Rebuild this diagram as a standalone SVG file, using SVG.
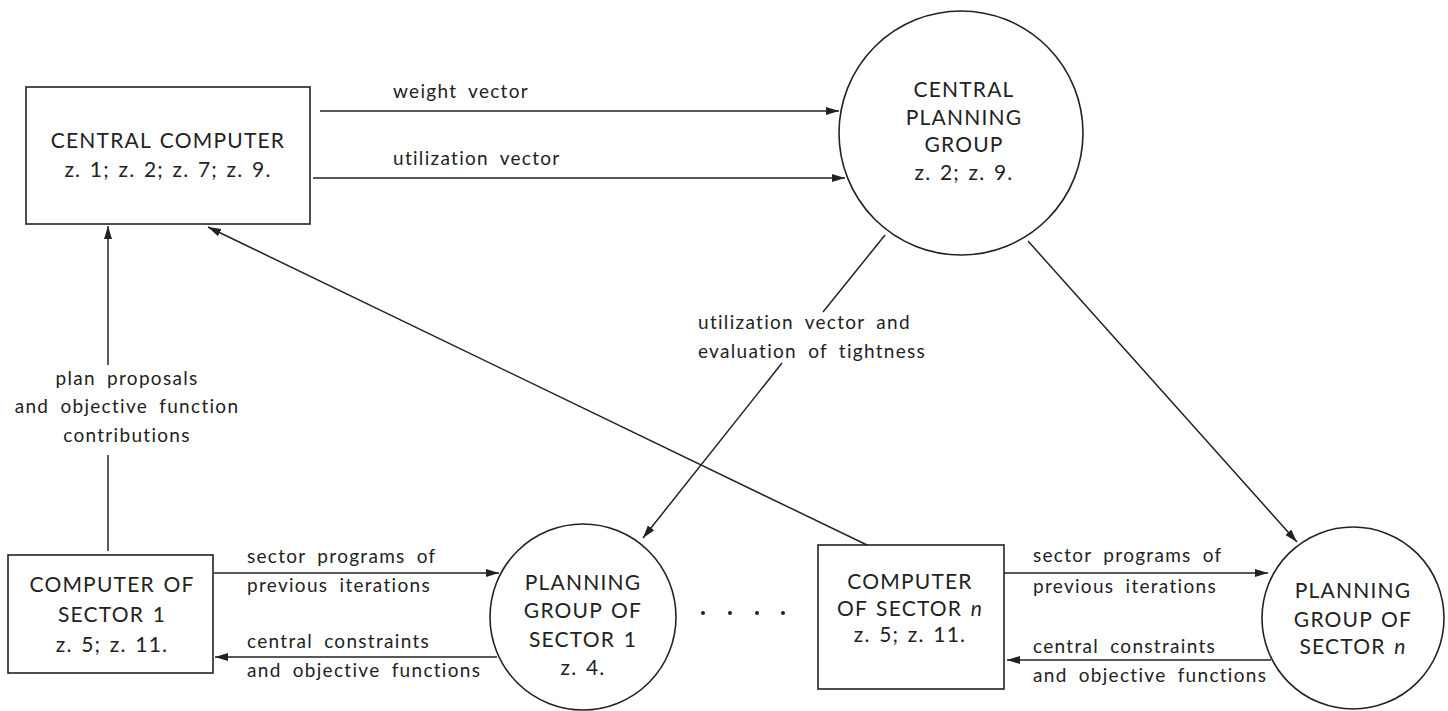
<svg xmlns="http://www.w3.org/2000/svg" width="1448" height="711" viewBox="0 0 1448 711">
<style>
.n{fill:none;stroke:#222;stroke-width:1.6}
.c{fill:none;stroke:#222;stroke-width:1.5}
.t{font-family:Lato,"Open Sans",sans-serif;font-size:21px;fill:#222;letter-spacing:1.2px;word-spacing:2px;text-anchor:middle}
.l{font-family:Lato,"Open Sans",sans-serif;font-size:19px;fill:#222;letter-spacing:1.3px;word-spacing:5px}
.lc{text-anchor:middle}
</style>
<defs>
<marker id="ah" markerUnits="userSpaceOnUse" markerWidth="14" markerHeight="10" refX="13" refY="4" orient="auto">
<path d="M0,0 L13,4 L0,8 Z" fill="#222"/>
</marker>
</defs>
<rect width="1448" height="711" fill="#fff"/>
<g id="central-computer">
<rect class="n" x="26" y="87" width="284" height="137"/>
<text class="t" x="168" y="148">CENTRAL COMPUTER</text>
<text class="t" x="168" y="177">z. 1;  z. 2;  z. 7;  z. 9.</text>
</g>
<g id="central-planning-group">
<circle class="n" cx="961" cy="133" r="122"/>
<text class="t" x="964" y="97">CENTRAL</text>
<text class="t" x="964" y="125">PLANNING</text>
<text class="t" x="964" y="152">GROUP</text>
<text class="t" x="964" y="180">z. 2;  z. 9.</text>
</g>
<g id="computer-sector-1">
<rect class="n" x="8" y="555" width="205" height="118"/>
<text class="t" x="112" y="592">COMPUTER OF</text>
<text class="t" x="112" y="622">SECTOR 1</text>
<text class="t" x="112" y="652">z. 5;  z. 11.</text>
</g>
<g id="planning-group-sector-1">
<circle class="n" cx="583" cy="617" r="93"/>
<text class="t" x="583" y="590">PLANNING</text>
<text class="t" x="583" y="618">GROUP OF</text>
<text class="t" x="583" y="647">SECTOR 1</text>
<text class="t" x="583" y="675">z. 4.</text>
</g>
<g id="ellipsis">
<circle cx="703" cy="613" r="2" fill="#222"/>
<circle cx="730" cy="613" r="2" fill="#222"/>
<circle cx="757" cy="613" r="2" fill="#222"/>
<circle cx="783" cy="613" r="2" fill="#222"/>
</g>
<g id="computer-sector-n">
<rect class="n" x="818" y="545" width="186" height="144"/>
<text class="t" x="910" y="589">COMPUTER</text>
<text class="t" x="910" y="616">OF SECTOR <tspan font-style="italic">n</tspan></text>
<text class="t" x="910" y="642">z. 5;  z. 11.</text>
</g>
<g id="planning-group-sector-n">
<circle class="n" cx="1353" cy="618" r="91"/>
<text class="t" x="1353" y="598">PLANNING</text>
<text class="t" x="1353" y="627">GROUP OF</text>
<text class="t" x="1353" y="654">SECTOR <tspan font-style="italic">n</tspan></text>
</g>
<g id="connectors">
<line class="c" x1="320" y1="111" x2="839" y2="111" marker-end="url(#ah)"/>
<line class="c" x1="313" y1="178" x2="845" y2="178" marker-end="url(#ah)"/>
<line class="c" x1="108" y1="365" x2="108" y2="226" marker-end="url(#ah)"/>
<line class="c" x1="108" y1="551" x2="108" y2="455"/>
<line class="c" x1="867" y1="545" x2="208" y2="227" marker-end="url(#ah)"/>
<line class="c" x1="885" y1="235" x2="823" y2="312"/>
<line class="c" x1="782" y1="363" x2="643" y2="538" marker-end="url(#ah)"/>
<line class="c" x1="1028" y1="241" x2="1297" y2="542" marker-end="url(#ah)"/>
<line class="c" x1="214" y1="573" x2="499" y2="573" marker-end="url(#ah)"/>
<line class="c" x1="497" y1="657" x2="215" y2="657" marker-end="url(#ah)"/>
<line class="c" x1="1004" y1="573" x2="1268" y2="573" marker-end="url(#ah)"/>
<line class="c" x1="1271" y1="660" x2="1007" y2="660" marker-end="url(#ah)"/>
</g>
<g id="labels">
<text class="l" x="393" y="98">weight vector</text>
<text class="l" x="393" y="165">utilization vector</text>
<text class="l" x="698" y="329">utilization vector and</text>
<text class="l" x="698" y="358">evaluation of tightness</text>
<text class="l lc" x="127" y="385">plan proposals</text>
<text class="l lc" x="127" y="413">and objective function</text>
<text class="l lc" x="127" y="442">contributions</text>
<text class="l" x="247" y="563">sector programs of</text>
<text class="l" x="247" y="592">previous iterations</text>
<text class="l" x="247" y="648">central constraints</text>
<text class="l" x="247" y="677">and objective functions</text>
<text class="l" x="1033" y="562">sector programs of</text>
<text class="l" x="1033" y="593">previous iterations</text>
<text class="l" x="1033" y="653">central constraints</text>
<text class="l" x="1033" y="682">and objective functions</text>
</g>
</svg>
